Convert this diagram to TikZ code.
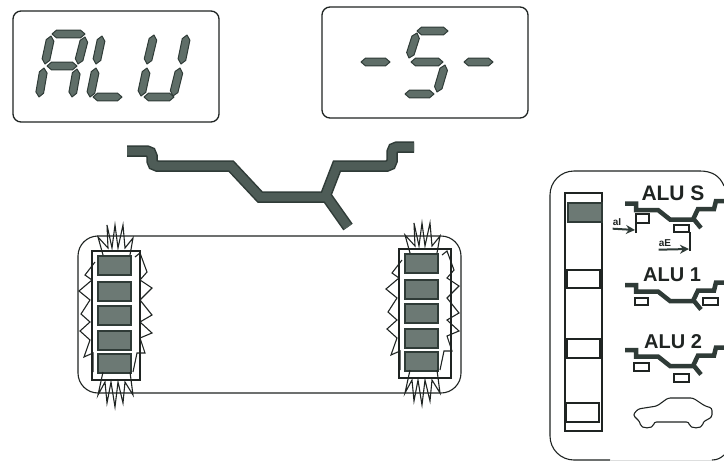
\documentclass[tikz,border=0pt]{standalone}
\usepackage{fontspec}
\setmainfont{Liberation Sans}
\usetikzlibrary{calc,arrows.meta}

\definecolor{inkdark}{HTML}{1F2422}
\definecolor{segedge}{HTML}{2F3B37}
\definecolor{segcore}{HTML}{5F6E68}
\definecolor{rimcore}{HTML}{4E5C57}
\definecolor{blockcore}{HTML}{6C7974}

\tikzset{
  panelbox/.style={draw=inkdark, line width=1.3pt, rounded corners=8pt},
  lcdseg/.style={draw=segedge, fill=segcore, line width=1pt, line join=round},
  rimline/.style={draw=segedge, line width=11.5pt, postaction={draw=rimcore, line width=8.5pt}},
  minirim/.style={draw=segedge, line width=4.5pt},
  gapblock/.style={draw=segedge, fill=blockcore, line width=1.4pt},
  burstline/.style={draw=inkdark, line width=1.1pt, line join=miter},
  thinbox/.style={draw=inkdark, line width=1.1pt},
  alulabel/.style={font=\bfseries\fontsize{20}{20}\selectfont, text=inkdark, inner sep=0pt},
  smalllabel/.style={font=\bfseries\fontsize{10}{10}\selectfont, text=inkdark, inner sep=0pt},
  weightarrow/.style={draw=segedge, line width=2pt, -{Stealth[length=9pt,width=9pt]}}
}

\newcommand{\drawseg}[2]{
  \coordinate (p) at #1;
  \coordinate (q) at #2;
  \draw[lcdseg] (p) -- ($(p)!4.5pt!(q)!3.9pt!90:(q)$) -- ($(q)!4.5pt!(p)!3.9pt!-90:(p)$) -- (q)
    -- ($(q)!4.5pt!(p)!3.9pt!90:(p)$) -- ($(p)!4.5pt!(q)!3.9pt!-90:(q)$) -- cycle;
}

\begin{document}
\begin{tikzpicture}[x=1pt, y=-1pt]
\useasboundingbox (0,0) rectangle (724,461);

% displays
\draw[panelbox] (13,11) rectangle (219,122);
\draw[panelbox] (322,7) rectangle (528,118);
\foreach \xa/\ya/\xb/\yb in {52/34/85/34, 51/36/45/64, 85/37/78/64, 47/66/77/66, 44/68/39/97, 77/69/72/97,
  102/36/96/64, 96/68/90/97, 93/97/122/97,
  154/35/147/64, 147/68/141/96, 187/35/181/64, 180/68/173/96, 144/97/174/97,
  361/62/390/62, 464/62/493/62,
  417/31/448/31, 417/33/409/58, 411/62/443/62, 445/65/437/92, 405/94/434/94}
  \drawseg{(\xa,\ya)}{(\xb,\yb)};

% big rim
\draw[rimline] (127,151) [rounded corners=5pt] -- (152,151) -- (152,166) [sharp corners] -- (231,166) -- (260,197) -- (325,197) -- (337,166) [rounded corners=5pt] -- (392,166) -- (392,147) [sharp corners] -- (414,147)
  (324,193) -- (348,227);

% wheel
\draw[thinbox, rounded corners=20pt] (78,236) rectangle (461,393);
\foreach \dx/\dy/\fw in {0/0/48, 307/-2/52}
{
  \begin{scope}[shift={(\dx,\dy)}]
  \draw[thinbox] (92,251) rectangle (92+\fw,380);
  \foreach \ya/\yb in {256/275, 282/301, 306/325, 331/350, 354/373}
    \draw[gapblock] (98,\ya) rectangle (131,\yb);
  \draw[burstline] (103,255) -- (98,237) -- (108,248) -- (107,225) -- (112,248) -- (115,225) -- (118,248) -- (123,225) -- (125,248) -- (133,238) -- (130,255);
  \draw[burstline] (103,372) -- (98,395) -- (105,382) -- (107,403) -- (111,382) -- (115,407) -- (118,382) -- (123,403) -- (125,382) -- (133,395) -- (130,372);
  \draw[burstline] (95,262) -- (85,275) -- (92,280) -- (79,291) -- (90,300) -- (81,314) -- (90,322) -- (80,331) -- (90,340) -- (84,357) -- (93,353) -- (93,372);
  \draw[burstline] (135,257) -- (140,253) -- (147,272) -- (140,280) -- (152,288) -- (140,300) -- (152,315) -- (140,322) -- (152,333) -- (140,338) -- (145,353) -- (137,353) -- (133,372);
  \end{scope}
}

% selection panel
\draw[thinbox, rounded corners=24pt] (610,460) -- (550,460) -- (550,171) -- (700,171);
\draw[thinbox] (724,186) .. controls (720,176) and (712,171) .. (700,171);
\draw[draw=inkdark!15, line width=0.8pt] (610,460) -- (712,460);
\draw[thinbox] (712,460) .. controls (717,460) and (721,458) .. (724,455);
\draw[thinbox] (565,193) rectangle (602,431);
\draw[gapblock] (568,203) rectangle (602,222);
\draw[thinbox] (567,270) rectangle (600,288);
\draw[thinbox] (567,339) rectangle (600,358);
\draw[thinbox] (566,403) rectangle (599,422);

\foreach \dy in {0, 81.5, 146.5}
  \draw[minirim] (625,203.5+\dy) -- (636,203.5+\dy) -- (636,210+\dy) -- (658,210+\dy) -- (670,219.5+\dy) -- (693,219.5+\dy) -- (698,209+\dy) -- (714,209+\dy) -- (716,201+\dy) -- (724,201+\dy)
    (692,217+\dy) -- (701,228+\dy);

\node[alulabel, font=\bfseries\fontsize{21}{21}\selectfont] (aluS) at (673,193) {ALU S};
\node[alulabel] (aluA) at (672,275) {ALU 1};
\node[alulabel] (aluB) at (673,342) {ALU 2};

% weight positions
\draw[thinbox] (636,233) -- (636,214) -- (649,214) -- (649,223) -- (636,223);
\draw[thinbox] (674,225) rectangle (689,232);
\draw[thinbox] (690,232) -- (690,251);
\node[smalllabel] (labelaI) at (617,222) {aI};
\node[smalllabel] (labelaE) at (665,243) {aE};
\coordinate (endaI) at (635,230);
\coordinate (endaE) at (689,249);
\draw[weightarrow] (labelaI.south west) ++(0,3) -- (endaI);
\draw[weightarrow] (labelaE.south west) ++(0,3) -- (endaE);
\draw[thinbox] (635,298) rectangle (648,305);
\draw[thinbox] (703,298) rectangle (718,305);
\draw[thinbox] (634,363) rectangle (649,371);
\draw[thinbox] (674,374) rectangle (689,382);

% car
\draw[thinbox, rounded corners=2.5pt] (633,415) -- (638,409) -- (657,406) -- (668,398) -- (693,398) -- (705,406) -- (712,408) -- (712,417) -- (703,422)
  .. controls (702,429) and (690,429) .. (689,422) -- (654,422) .. controls (653,429) and (641,429) .. (640,422) -- cycle;
\end{tikzpicture}
\end{document}
